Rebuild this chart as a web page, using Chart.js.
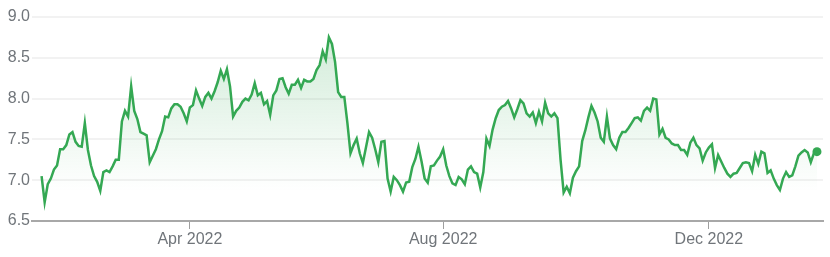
<!DOCTYPE html>
<html>
<head>
<meta charset="utf-8">
<script src="https://cdn.jsdelivr.net/npm/chart.js@4.4.0/dist/chart.umd.min.js"></script>
<style>
    html, body { margin: 0; padding: 0; background: #fff; }
    #wrap { width: 830px; height: 257px; position: relative; }
</style>
</head>
<body>
<div id="wrap"><canvas id="priceChart"></canvas></div>
<script>
    // daily closes, first trading day 2022-01-24
    var startDate = '2022-01-24';
    var holidays = ['2022-02-21', '2022-04-15', '2022-05-30', '2022-06-20', '2022-07-04',
                    '2022-09-05', '2022-11-24', '2022-12-26', '2023-01-02', '2023-01-16'];
    var tickLabels = ['Apr 2022', 'Aug 2022', 'Dec 2022'];
    var yTicks = [6.5, 7.0, 7.5, 8.0, 8.5, 9.0];

    var prices = [
        7.05, 6.73, 6.95, 7.02, 7.13, 7.18, 7.38, 7.38, 7.43, 7.56,
        7.59, 7.47, 7.42, 7.41, 7.70, 7.37, 7.18, 7.05, 6.98, 6.87,
        7.10, 7.12, 7.10, 7.17, 7.25, 7.25, 7.72, 7.85, 7.78, 8.15,
        7.85, 7.75, 7.59, 7.57, 7.55, 7.22, 7.30, 7.38, 7.50, 7.60,
        7.78, 7.77, 7.88, 7.93, 7.93, 7.90, 7.82, 7.72, 7.89, 7.92,
        8.10, 8.00, 7.91, 8.02, 8.07, 8.00, 8.09, 8.20, 8.34, 8.24,
        8.36, 8.15, 7.78, 7.85, 7.89, 7.96, 8.00, 7.98, 8.05, 8.19,
        8.04, 8.07, 7.93, 7.97, 7.80, 8.04, 8.10, 8.24, 8.25, 8.14,
        8.06, 8.17, 8.17, 8.23, 8.13, 8.23, 8.21, 8.21, 8.24, 8.35,
        8.41, 8.58, 8.48, 8.75, 8.67, 8.45, 8.08, 8.02, 8.02, 7.70,
        7.33, 7.43, 7.51, 7.33, 7.21, 7.40, 7.59, 7.52, 7.38, 7.22,
        7.47, 7.48, 7.02, 6.86, 7.04, 7.00, 6.94, 6.86, 6.97, 6.98,
        7.16, 7.26, 7.41, 7.23, 7.02, 6.97, 7.17, 7.18, 7.24, 7.29,
        7.38, 7.18, 7.05, 6.96, 6.94, 7.04, 7.01, 6.95, 7.13, 7.17,
        7.10, 7.08, 6.91, 7.10, 7.51, 7.42, 7.62, 7.76, 7.86, 7.90,
        7.92, 7.97, 7.88, 7.77, 7.87, 7.98, 7.94, 7.82, 7.78, 7.83,
        7.70, 7.84, 7.72, 7.95, 7.82, 7.78, 7.82, 7.76, 7.25, 6.85,
        6.92, 6.84, 7.03, 7.11, 7.17, 7.48, 7.61, 7.77, 7.91, 7.83,
        7.72, 7.52, 7.47, 7.78, 7.51, 7.43, 7.38, 7.52, 7.59, 7.59,
        7.64, 7.70, 7.76, 7.77, 7.73, 7.85, 7.89, 7.85, 8.00, 7.99,
        7.56, 7.63, 7.52, 7.50, 7.45, 7.43, 7.43, 7.37, 7.37, 7.31,
        7.46, 7.52, 7.43, 7.39, 7.24, 7.34, 7.40, 7.44, 7.15, 7.31,
        7.23, 7.15, 7.08, 7.04, 7.08, 7.09, 7.15, 7.21, 7.22, 7.21,
        7.11, 7.31, 7.20, 7.35, 7.33, 7.09, 7.12, 7.02, 6.94, 6.88,
        7.02, 7.10, 7.04, 7.06, 7.17, 7.30, 7.34, 7.37, 7.34, 7.22,
        7.33, 7.35
    ];

    // trading days (weekdays minus holidays), one per price
    var months = ['Jan','Feb','Mar','Apr','May','Jun','Jul','Aug','Sep','Oct','Nov','Dec'];
    var dates = [];
    var d = new Date(startDate + 'T00:00:00Z');
    while (dates.length < prices.length) {
        var iso = d.toISOString().slice(0, 10);
        var wd = d.getUTCDay();
        if (wd !== 0 && wd !== 6 && holidays.indexOf(iso) < 0) {
            dates.push(months[d.getUTCMonth()] + ' ' + d.getUTCFullYear());
        }
        d.setUTCDate(d.getUTCDate() + 1);
    }
    var tickIdx = tickLabels.map(function (l) { return dates.indexOf(l); });

    var green = 'rgb(52, 168, 83)';
    var last = prices.length - 1;
    var textColor = '#70757a';
    var font = { family: 'Arial, "Liberation Sans", sans-serif', size: 16 };

    var ctx = document.getElementById('priceChart').getContext('2d');
    var chart = new Chart(ctx, {
        type: 'line',
        data: {
            datasets: [{
                data: prices.map(function (p, i) { return { x: i, y: p }; }),
                borderColor: green,
                borderWidth: 2.5,
                tension: 0,
                fill: 'start',
                backgroundColor: function (c) {
                    var area = c.chart.chartArea;
                    if (!area) return 'rgba(52,168,83,0.1)';
                    var g = c.chart.ctx.createLinearGradient(0, area.top + 20, 0, area.bottom - 30);
                    g.addColorStop(0, 'rgba(52,168,83,0.22)');
                    g.addColorStop(1, 'rgba(52,168,83,0)');
                    return g;
                },
                pointRadius: function (c) { return c.dataIndex === last ? 4.5 : 0; },
                pointBackgroundColor: green,
                pointBorderWidth: 0,
                pointHoverRadius: 0
            }]
        },
        options: {
            responsive: true,
            maintainAspectRatio: false,
            animation: false,
            layout: { padding: { top: 17, right: 7, left: 0, bottom: 0 } },
            plugins: { legend: { display: false }, tooltip: { enabled: false } },
            scales: {
                x: {
                    type: 'linear',
                    min: -3.1,
                    max: last + 1.95,
                    afterBuildTicks: function (axis) {
                        axis.ticks = tickIdx.map(function (v) { return { value: v }; });
                    },
                    afterFit: function (scale) { scale.height = 36; },
                    ticks: {
                        autoSkip: false,
                        maxRotation: 0,
                        padding: 1,
                        color: textColor,
                        font: font,
                        callback: function (v) {
                            var k = tickIdx.indexOf(v);
                            return k >= 0 ? tickLabels[k] : '';
                        }
                    },
                    grid: {
                        drawOnChartArea: false,
                        drawTicks: true,
                        tickLength: 8,
                        tickColor: '#9e9e9e',
                        lineWidth: 1
                    },
                    border: { display: true, color: '#a8a8a8', width: 2 }
                },
                y: {
                    min: 6.5,
                    max: 9.0,
                    afterBuildTicks: function (axis) {
                        axis.ticks = yTicks.map(function (v) { return { value: v }; });
                    },
                    afterFit: function (scale) { scale.width = 32; },
                    ticks: {
                        padding: 2,
                        color: textColor,
                        font: font,
                        callback: function (v) { return Number(v).toFixed(1); }
                    },
                    grid: { color: '#f2f2f2', lineWidth: 2, drawTicks: false },
                    border: { display: false }
                }
            }
        }
    });
</script>
</body>
</html>
